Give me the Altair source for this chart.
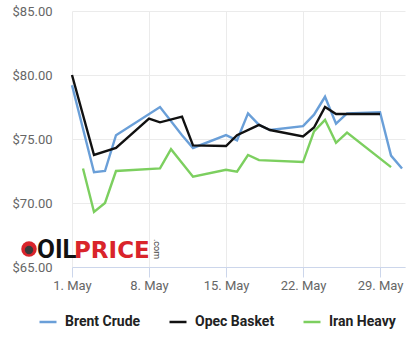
import altair as alt
import pandas as pd

series_names = ["Brent Crude", "Opec Basket", "Iran Heavy"]
series_colors = ["#6a9fd8", "#111111", "#7ccf5f"]

brent_days = [1, 3, 4, 5, 9, 11, 12, 15, 16, 17, 18, 19, 22, 23, 24, 25, 26, 29, 30, 31]
brent_vals = [79.2, 72.4, 72.5, 75.3, 77.5, 75.3, 74.3, 75.3, 74.9, 77.0, 76.1, 75.7,
              76.0, 76.9, 78.3, 76.2, 77.0, 77.1, 73.7, 72.7]

opec_days = [1, 3, 5, 8, 9, 11, 12, 15, 16, 18, 19, 22, 23, 24, 25, 29]
opec_vals = [80.0, 73.75, 74.3, 76.6, 76.3, 76.75, 74.5, 74.45, 75.3, 76.1, 75.7,
             75.2, 75.9, 77.5, 76.95, 76.95]

iran_days = [2, 3, 4, 5, 9, 10, 12, 15, 16, 17, 18, 22, 23, 24, 25, 26, 30]
iran_vals = [72.7, 69.3, 70.0, 72.5, 72.7, 74.2, 72.05, 72.6, 72.45, 73.75, 73.35,
             73.2, 75.6, 76.5, 74.7, 75.5, 72.8]

x_ticks = [1, 8, 15, 22, 29]
y_ticks = [65, 70, 75, 80, 85]

rows = []
for name, days, vals in [
    (series_names[0], brent_days, brent_vals),
    (series_names[1], opec_days, opec_vals),
    (series_names[2], iran_days, iran_vals),
]:
    for d, v in zip(days, vals):
        rows.append({"day": d, "price": v, "series": name})
df = pd.DataFrame(rows)

W, H = 333, 256

lines = alt.Chart(df).mark_line(strokeWidth=2.4).encode(
    x=alt.X("day:Q",
            scale=alt.Scale(domain=[1, 31.27], nice=False, zero=False),
            axis=alt.Axis(values=x_ticks, labelExpr="datum.value + '. May'",
                          title=None, grid=True, gridColor="#ebebeb",
                          domainColor="#ccd6eb", tickColor="#ccd6eb", tickSize=10,
                          labelColor="#666666", labelFont="Roboto", labelFontSize=13,
                          labelPadding=2, labelFlush=False)),
    y=alt.Y("price:Q",
            scale=alt.Scale(domain=[65, 85], nice=False, zero=False),
            axis=alt.Axis(values=y_ticks, format="$.2f", title=None,
                          grid=True, gridColor="#ebebeb", domain=False, ticks=False,
                          labelColor="#666666", labelFont="Roboto", labelFontSize=13,
                          labelPadding=20)),
    color=alt.Color("series:N",
                    scale=alt.Scale(domain=series_names, range=series_colors),
                    sort=series_names,
                    legend=alt.Legend(title=None, orient="none", direction="horizontal",
                                      legendX=-34, legendY=301,
                                      symbolType="stroke", symbolSize=289,
                                      symbolStrokeWidth=2.5,
                                      labelFont="Roboto", labelFontSize=14,
                                      labelFontWeight="bold", labelColor="#222222",
                                      labelOffset=7, columnPadding=23)),
    detail="series:N",
)

one = alt.Data(values=[{"k": 1}])

logo_ring = alt.Chart(one).mark_point(filled=True, color="#d9242b", size=240, opacity=1).encode(
    x=alt.value(-43), y=alt.value(238))
logo_core = alt.Chart(one).mark_point(filled=True, color="#3a3a3a", size=70, opacity=1).encode(
    x=alt.value(-43), y=alt.value(239))
logo_oil = alt.Chart(one).mark_text(text="OIL", font="Roboto", fontSize=26, fontWeight="bold",
                                    color="#111111", align="left", baseline="alphabetic").encode(
    x=alt.value(-35), y=alt.value(247))
logo_price = alt.Chart(one).mark_text(text="PRICE", font="DejaVu Sans", fontSize=23,
                                      fontWeight="bold", color="#d9242b", align="left",
                                      baseline="alphabetic").encode(
    x=alt.value(2), y=alt.value(247))
logo_com = alt.Chart(one).mark_text(text=".com", font="Roboto", fontSize=9, angle=90,
                                    color="#444444", align="center", baseline="middle").encode(
    x=alt.value(85), y=alt.value(238))

chart = alt.layer(lines, logo_ring, logo_core, logo_oil, logo_price, logo_com).properties(
    width=W, height=H,
    autosize=alt.AutoSizeParams(type="none"),
    padding={"left": 72, "top": 11, "right": 13, "bottom": 85},
    background="white",
).configure_view(stroke=None)

chart.save("out.html", embed_options={"renderer": "svg", "actions": False})
